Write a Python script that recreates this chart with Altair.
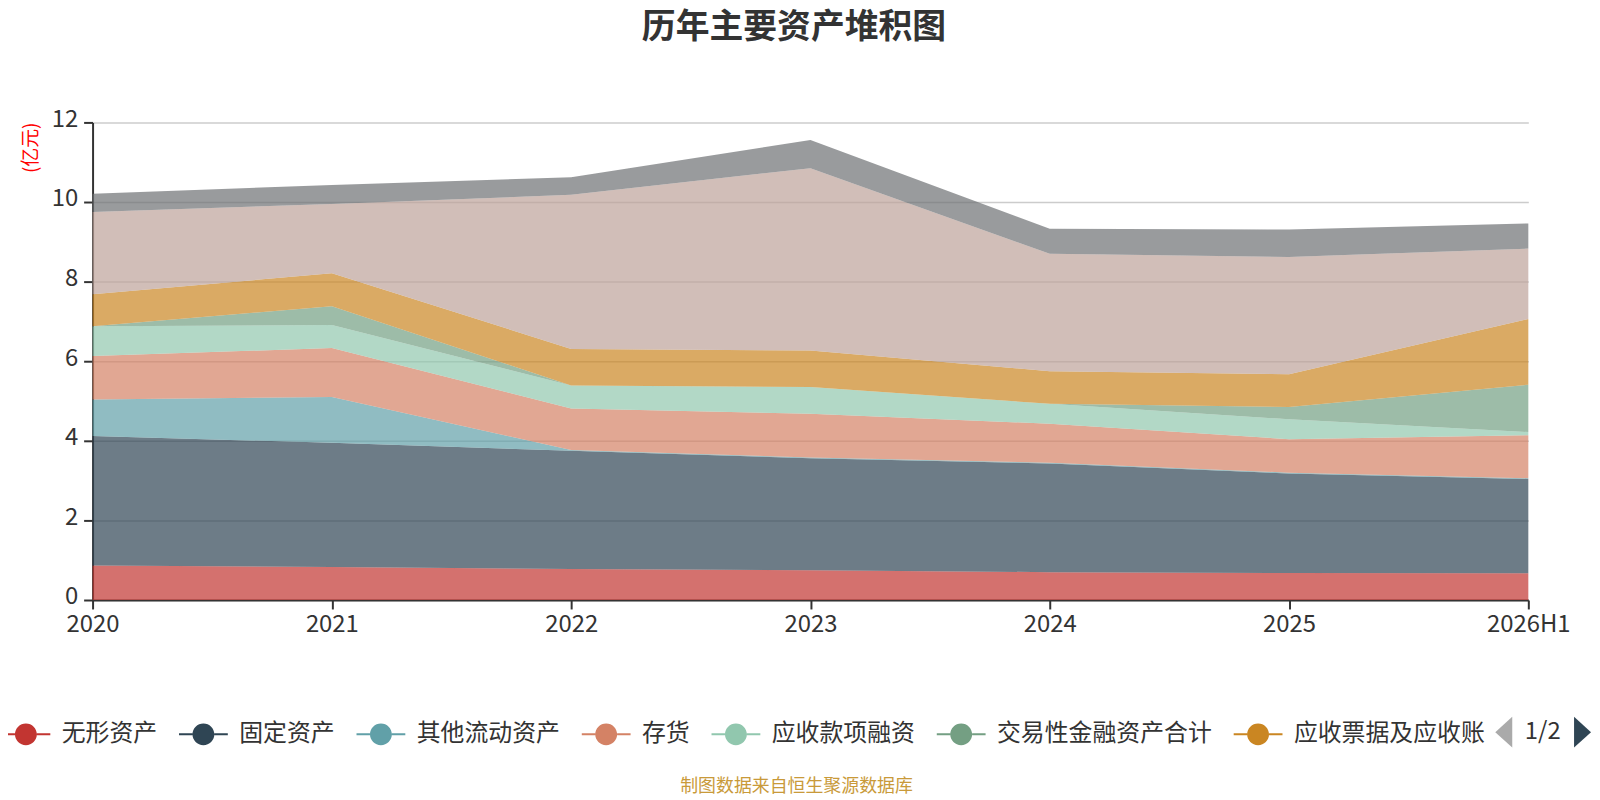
import altair as alt
import pandas as pd

# ---------------- data ----------------
years = ["2020", "2021", "2022", "2023", "2024", "2025", "2026H1"]

series_names = [
    "无形资产",
    "固定资产",
    "其他流动资产",
    "存货",
    "应收款项融资",
    "交易性金融资产合计",
    "应收票据及应收账款",
    "货币资金",
    "在建工程",
]

wuxing = [0.87, 0.83, 0.78, 0.75, 0.70, 0.68, 0.67]
guding = [3.25, 3.12, 2.97, 2.81, 2.73, 2.50, 2.37]
qita_liudong = [0.92, 1.15, 0.02, 0.02, 0.02, 0.02, 0.02]
cunhuo = [1.09, 1.23, 1.04, 1.10, 0.98, 0.84, 1.08]
yingshou_rongzi = [0.75, 0.58, 0.58, 0.67, 0.50, 0.50, 0.08]
jiaoyixing = [0.00, 0.47, 0.00, 0.00, 0.00, 0.31, 1.19]
yingshou_piaoju = [0.80, 0.83, 0.92, 0.92, 0.82, 0.82, 1.65]
huobi = [2.07, 1.74, 3.87, 4.58, 2.95, 2.95, 1.77]
zaijian = [0.46, 0.48, 0.44, 0.71, 0.63, 0.69, 0.63]

series_values = [wuxing, guding, qita_liudong, cunhuo, yingshou_rongzi,
                 jiaoyixing, yingshou_piaoju, huobi, zaijian]

colors = ["#c23531", "#2f4554", "#61a0a8", "#d48265", "#91c7ae",
          "#749f83", "#ca8622", "#bda29a", "#6e7074"]

y_ticks = [0, 2, 4, 6, 8, 10, 12]

title_text = "历年主要资产堆积图"
source_text = "制图数据来自恒生聚源数据库"
unit_text = "(亿元)"
pager_text = "1/2"

rows = []
for i, (name, vals) in enumerate(zip(series_names, series_values)):
    for yr, v in zip(years, vals):
        rows.append({"year": yr, "series": name, "value": v, "idx": i})
df = pd.DataFrame(rows)

FONT = "Noto Sans CJK SC"
TXT = "#333333"

legend_path = ("M-2.23,-0.09L-1,-0.09L-1,0.09L-2.23,0.09Z "
               "M1,-0.09L2.23,-0.09L2.23,0.09L1,0.09Z "
               "M-1,0A1,1 0 1,0 1,0A1,1 0 1,0 -1,0Z")

area = alt.Chart(df).mark_area(opacity=0.7, interpolate="linear").encode(
    x=alt.X(
        "year:O", sort=years, title=None,
        scale=alt.Scale(type="point", padding=0),
        axis=alt.Axis(
            labelAngle=0, labelFont=FONT, labelFontSize=24, labelColor=TXT,
            labelPadding=4, domainColor=TXT, domainWidth=2, tickColor=TXT,
            tickWidth=2, tickSize=9, grid=False, labelOverlap=False,
        ),
    ),
    y=alt.Y(
        "value:Q", stack="zero",
        scale=alt.Scale(domain=[0, 12], nice=False),
        axis=alt.Axis(
            values=y_ticks, title=unit_text, titleColor="#ff0000",
            titleFont=FONT, titleFontSize=19, titleFontWeight="normal",
            titleX=-62.5, titleY=25, titleAngle=270, titleAlign="center",
            titleBaseline="middle",
            labelFont=FONT, labelFontSize=24, labelColor=TXT, labelPadding=6,
            labelOffset=-3,
            domainColor=TXT, domainWidth=2, tickColor=TXT, tickWidth=2,
            tickSize=9, grid=True, gridColor="#cccccc", gridWidth=1.5,
        ),
    ),
    color=alt.Color(
        "series:N",
        scale=alt.Scale(domain=series_names, range=colors),
        legend=alt.Legend(
            orient="none", legendX=-79, legendY=603, direction="horizontal",
            values=series_names[:7], title=None, symbolType=legend_path,
            symbolSize=484, symbolStrokeWidth=0, symbolOpacity=1,
            labelFont=FONT, labelFontSize=24, labelColor=TXT, labelOffset=24,
            columnPadding=21.4, padding=0, labelLimit=500,
            labelExpr="datum.label == '应收票据及应收账款' ? '应收票据及应收账' : datum.label",
        ),
    ),
    order=alt.Order("idx:Q", sort="ascending"),
)

def text_layer(txt, x, y, size, color, weight="normal"):
    return alt.Chart(pd.DataFrame({"t": [txt]})).mark_text(
        font=FONT, fontSize=size, fontWeight=weight, color=color,
        align="center", baseline="middle",
    ).encode(text="t:N", x=alt.value(x), y=alt.value(y))

title_layer = text_layer(title_text, 705, -94.5, 34, TXT, "bold")
source_layer = text_layer(source_text, 707.5, 668.3, 18, "#c99a3a")
pager_layer = text_layer(pager_text, 1457.5, 612.5, 24, TXT)

tri_left = "M0.55,-1L-0.55,0L0.55,1Z"
tri_right = "M-0.55,-1L0.55,0L-0.55,1Z"

def tri_layer(path, x, y, color):
    return alt.Chart(pd.DataFrame({"t": [0]})).mark_point(
        shape=path, size=961, filled=True, opacity=1, strokeWidth=0, color=color,
    ).encode(x=alt.value(x), y=alt.value(y))

left_tri = tri_layer(tri_left, 1418.3, 612.8, "#aaaaaa")
right_tri = tri_layer(tri_right, 1497.5, 612.8, "#2f4554")

chart = alt.layer(
    area, title_layer, source_layer, pager_layer, left_tri, right_tri
).properties(
    width=1443, height=480,
    autosize=alt.AutoSizeParams(type="none"),
    padding={"left": 85, "top": 113, "right": 64, "bottom": 199},
    background="white",
).configure_view(stroke=None)

chart.save("out.html", embed_options={"renderer": "svg", "actions": False})
